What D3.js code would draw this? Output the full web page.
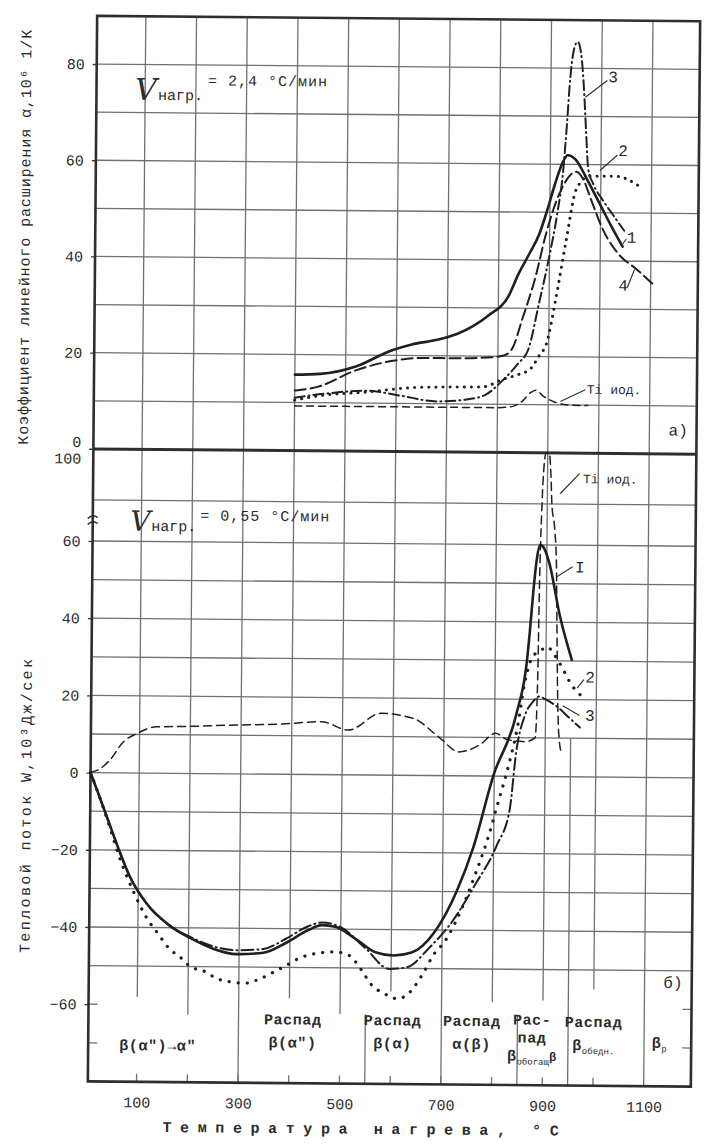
<!DOCTYPE html>
<html>
<head>
<meta charset="utf-8">
<script src="https://cdn.jsdelivr.net/npm/d3@7"></script>
<style>
  body { margin: 0; background: #fff; }
  text { font-family: "Liberation Mono", "DejaVu Sans Mono", monospace; fill: #2b2b2b; }
</style>
</head>
<body>
<svg id="canvas"></svg>
<script>
// ---------- panel a) : coefficient of linear expansion, heating 2.4 C/min ----------
const tA1 = [400, 450, 520, 590, 630, 680, 720, 780, 820, 840, 860, 880, 895, 910, 925, 934, 950, 970, 990, 1005, 1020, 1044]
const vA1 = [15.8, 16, 17.6, 21, 22.3, 23.3, 24.6, 28.4, 32.5, 37.3, 41.3, 45.6, 50.5, 56, 60.5, 61.9, 61, 57.5, 53.5, 50.5, 47.5, 43]
const tA2 = [400, 450, 540, 630, 700, 770, 810, 840, 865, 882, 895, 912, 932, 952, 978, 1030, 1077]
const vA2 = [10.5, 11.5, 12.3, 13.3, 13.5, 13.6, 15.2, 16.2, 17.5, 20.3, 22.5, 31.3, 43.8, 54.9, 57.6, 57.6, 55.5]
const tA3 = [400, 460, 540, 610, 680, 735, 775, 810, 840, 860, 880, 900, 915, 925, 932, 938, 945, 952, 959, 965, 970, 975, 985, 1005, 1025, 1047]
const vA3 = [11, 11.9, 12.6, 11.6, 10.5, 10.9, 11.9, 15, 18.5, 21.5, 31, 41, 50, 58, 68, 78, 84, 85.5, 83, 76, 67, 59, 56, 52.5, 49.5, 46.3]
const tA4 = [400, 445, 520, 590, 650, 720, 790, 815, 830, 847, 873, 893, 919, 952, 965, 980, 1005, 1040, 1070, 1107]
const vA4 = [12.5, 13.3, 16.8, 18.8, 19.5, 19.5, 19.8, 20.3, 22, 27.6, 36.6, 45.6, 54, 58.5, 57, 53, 46.5, 41, 38.5, 35]
const tATi = [400, 500, 600, 700, 800, 830, 850, 865, 876, 890, 912, 940, 978]
const vATi = [9.3, 9.3, 9.3, 9.3, 9.3, 9.6, 10.8, 12.5, 13, 11.8, 10.6, 10, 9.9]

// ---------- panel б) : heat flow W, 10^3 J/s, heating 0.55 C/min ----------
const tB1 = [4, 20, 40, 60, 82, 118, 162, 206, 250, 295, 348, 392, 436, 463, 489, 533, 569, 604, 640, 684, 728, 760, 798, 843, 862, 868, 874, 880, 887, 895, 905, 927, 951]
const vB1 = [0, -5.5, -12.5, -19.5, -26.5, -34, -39.4, -42.8, -45.4, -46.7, -46.3, -43.7, -40.3, -39, -39.4, -42.8, -45.9, -46.7, -45.9, -40.7, -29.9, -18.5, 0, 16.3, 29.3, 37.9, 48, 56, 60, 59, 55.3, 41.5, 30.3]
const tB2 = [4, 20, 40, 60, 91, 118, 140, 162, 184, 206, 228, 259, 290, 312, 339, 365, 392, 419, 454, 489, 516, 542, 560, 587, 613, 640, 662, 684, 706, 724, 747, 764, 790, 807, 827, 846, 858, 869, 880, 893, 901, 927, 953, 972]
const vB2 = [0, -5.5, -13, -21, -30.8, -37.7, -41.6, -45.4, -47.6, -50.2, -51, -53.2, -54, -54.2, -53.2, -51.5, -49.6, -47.6, -46.3, -45.9, -46.7, -50.6, -54.1, -56.6, -57.9, -55.8, -51.5, -46.3, -42.8, -38.5, -31.6, -25.6, -15.5, -7.3, 2.2, 13.5, 23.8, 29.7, 32, 33, 33.6, 29.4, 23.4, 20.8]
const tB3 = [4, 20, 40, 60, 82, 118, 162, 206, 250, 295, 348, 392, 436, 463, 500, 550, 596, 631, 675, 720, 764, 806, 831, 843, 860, 876, 886, 900, 921, 945, 968]
const vB3 = [0, -5.5, -12.5, -19.5, -26.5, -34, -39.4, -42.5, -44.8, -45.7, -45.3, -42.6, -39.3, -38.3, -39.5, -45, -50.2, -49.7, -44.6, -37.7, -28.2, -18, -8.7, 6.4, 16, 19.5, 20.7, 20, 18.3, 15.5, 12.8]
const tBTi = [4, 20, 42, 68, 96, 132, 200, 277, 380, 458, 512, 575, 639, 690, 730, 770, 802, 825, 860, 880, 884, 886, 889, 893, 897, 903, 907, 909, 915, 919, 921, 923, 926, 932]
const vBTi = [0, 0.8, 3.3, 8, 10.3, 12, 12.2, 12.6, 13, 13.7, 11.6, 16, 14.8, 10, 6.2, 8, 11.1, 9.5, 9, 10, 25, 50, 75, 95, 100, 100, 90, 80, 68, 55, 40, 25, 12, 6]

// ---------- ticks and grid ----------
const gridX = [100, 200, 300, 400, 500, 600, 700, 800, 900, 1000, 1100]
const gridEndB = [-58, -62.5, -80, -58, -62, -56, -80, -58.5, -58, -55, -80]
const gridYA = [10, 20, 30, 40, 50, 60, 70, 80]
const gridYB = [80, 60, 50, 40, 30, 20, 10, 0, -10, -20, -30, -40, -50]
const ticksA = [0, 20, 40, 60, 80]
const ticksB = [-60, -40, -20, 0, 20, 40, 60, 100]
const xLabels = [100, 300, 500, 700, 900, 1100]
const separatorsB = [[550, -62, -80], [850, -62, -80], [950, 10, -80]]

// ---------- annotations ----------
const curveLabelsA = [[1013, 78.3, '3'], [1034, 63, '2'], [1052, 45, '1'], [1036, 35, '4'], [976, 13.3, 'Ti иод.'], [1138, 5, 'а)']]
const pointersA = [[968, 74, 1011, 77.5], [998, 58.8, 1032, 62], [1044, 43.5, 1051, 44.6], [1054, 34.5, 1068, 38.3], [924, 10.7, 973, 13.2]]
const curveLabelsB = [[970, 90, 'Ti иод.'], [956, 54.4, 'I'], [978, 25.9, '2'], [978, 16, '3'], [1137, -53, 'б)']]
const pointersB = [[925, 84, 963, 92], [920, 51.8, 951, 54.4], [962, 23, 975, 25.2], [934, 18.4, 967, 15.9]]
// rows: plain string, or [base, subscript, tail]
const phaseLabels = [
  [141, -70.5, ['β(α″)→α″'], 23],
  [407, -63.5, ['Распад', 'β(α″)'], 23],
  [604, -63.5, ['Распад', 'β(α)'], 23],
  [760, -63.5, ['Распад', 'α(β)'], 23],
  [879, -63, ['Рас-', 'пад', ['β', 'обогащ', 'β']], 18],
  [1000, -63.5, ['Распад', ['β', 'обедн.', '']], 23],
  [1130, -68.7, [['β', 'р', '']], 23]
]

// ---------- set up ----------
const width = 717
const height = 1146
const plot = { left: 92.5, right: 695.5, top: 18.5, mid: 451.5, bottom: 1084 }

let canvas = d3.select('#canvas').attr('width', width).attr('height', height)
canvas.append('rect').attr('width', width).attr('height', height).attr('fill', '#fff')
// the scan is slightly skewed
let root = canvas.append('g').attr('transform', 'rotate(0.5, 390, 550)')

let xScale = d3.scaleLinear().domain([4, 1193]).range([plot.left, plot.right])
let yA = d3.scaleLinear().domain([0, 90]).range([plot.mid, plot.top])
// broken axis above 60
let yB = d3.scaleLinear().domain([-80, 60, 80, 100]).range([plot.bottom, 543.6, 502.5, plot.mid])

let zip = (ts, vs) => ts.map((t, i) => [t, vs[i]])

let drawGrid = () => {
  let grid = root.append('g').attr('stroke', '#707070').attr('stroke-width', 1.3)
  gridX.forEach((t, i) => {
    grid.append('line').attr('x1', xScale(t)).attr('x2', xScale(t)).attr('y1', yA(90)).attr('y2', yA(0))
    grid.append('line').attr('x1', xScale(t)).attr('x2', xScale(t)).attr('y1', yB(100)).attr('y2', yB(gridEndB[i]))
  })
  gridYA.forEach(v => {
    grid.append('line').attr('x1', plot.left).attr('x2', plot.right).attr('y1', yA(v)).attr('y2', yA(v))
  })
  gridYB.forEach(v => {
    grid.append('line').attr('x1', plot.left).attr('x2', plot.right).attr('y1', yB(v)).attr('y2', yB(v))
  })
  separatorsB.forEach(s => {
    grid.append('line').attr('x1', xScale(s[0])).attr('x2', xScale(s[0])).attr('y1', yB(s[1])).attr('y2', yB(s[2]))
  })
  // short inner ticks
  gridX.slice(0, 10).forEach(t => {
    grid.append('line').attr('x1', xScale(t)).attr('x2', xScale(t)).attr('y1', plot.bottom).attr('y2', plot.bottom - 8)
  });
  [-60, -70].forEach(v => {
    grid.append('line').attr('x1', plot.left).attr('x2', plot.left + 9).attr('y1', yB(v)).attr('y2', yB(v))
    grid.append('line').attr('x1', plot.right - 9).attr('x2', plot.right).attr('y1', yB(v)).attr('y2', yB(v))
  })
}

let drawFrame = () => {
  let frame = root.append('g').attr('stroke', '#2e2e2e').attr('fill', 'none')
  frame.append('rect').attr('x', plot.left).attr('y', plot.top)
    .attr('width', plot.right - plot.left).attr('height', plot.bottom - plot.top).attr('stroke-width', 2.6)
  frame.append('line').attr('x1', plot.left).attr('x2', plot.right)
    .attr('y1', plot.mid).attr('y2', plot.mid).attr('stroke-width', 3)
  // axis break mark
  let yb = yB(70)
  frame.append('path').attr('stroke-width', 1.4)
    .attr('d', `M${plot.left - 5},${yb - 2} q5,-5 10,-1 M${plot.left - 5},${yb + 4} q5,-5 10,-1`)
}

let drawAxes = () => {
  let axisA = d3.axisLeft(yA).tickValues(ticksA).tickSize(4).tickPadding(8)
  let gA = root.append('g').attr('transform', `translate(${plot.left},0)`).call(axisA)
  let axisB = d3.axisLeft(yB).tickValues(ticksB).tickSize(4).tickPadding(8)
  let gB = root.append('g').attr('transform', `translate(${plot.left},0)`).call(axisB)
  let axisX = d3.axisBottom(xScale).tickValues(xLabels).tickFormat(d3.format('d')).tickSize(0).tickPadding(15)
  let gX = root.append('g').attr('transform', `translate(0,${plot.bottom})`).call(axisX)

  ;[gA, gB, gX].forEach(g => {
    g.select('.domain').remove()
    g.selectAll('line').attr('stroke', '#333').attr('stroke-width', 1.3)
    g.selectAll('text').attr('font-size', 15).attr('font-family', '"Liberation Mono", monospace').attr('fill', '#2b2b2b')
  })
  gA.selectAll('text').filter(d => d === 0).attr('dy', '-0.15em')
  gB.selectAll('text').filter(d => d === 100).attr('dy', '0.95em')
}

let drawCurves = () => {
  let lineA = d3.line().x(d => xScale(d[0])).y(d => yA(d[1])).curve(d3.curveMonotoneX)
  let lineB = d3.line().x(d => xScale(d[0])).y(d => yB(d[1])).curve(d3.curveMonotoneX)

  let seriesA = [
    { pts: zip(tATi, vATi), w: 1.5, dash: '7 5' },
    { pts: zip(tA4, vA4), w: 2, dash: '11 5' },
    { pts: zip(tA3, vA3), w: 2, dash: '10 4 1 4' },
    { pts: zip(tA2, vA2), w: 3, dash: '0.1 7' },
    { pts: zip(tA1, vA1), w: 2.6, dash: null }
  ]
  let seriesB = [
    { pts: zip(tBTi, vBTi), w: 1.5, dash: '8 5' },
    { pts: zip(tB3, vB3), w: 2, dash: '12 4 1 4' },
    { pts: zip(tB2, vB2), w: 3.2, dash: '0.1 9' },
    { pts: zip(tB1, vB1), w: 2.6, dash: null }
  ]

  let curves = root.append('g').attr('fill', 'none').attr('stroke', '#1f1f1f').attr('stroke-linecap', 'round')
  seriesA.forEach(s => {
    curves.append('path').attr('d', lineA(s.pts)).attr('stroke-width', s.w).attr('stroke-dasharray', s.dash)
  })
  seriesB.forEach(s => {
    curves.append('path').attr('d', lineB(s.pts)).attr('stroke-width', s.w).attr('stroke-dasharray', s.dash)
  })
}

let drawLabels = () => {
  let ann = root.append('g')
  let ptr = root.append('g').attr('stroke', '#333').attr('stroke-width', 1.2)

  curveLabelsA.forEach(l => {
    ann.append('text').attr('x', xScale(l[0])).attr('y', yA(l[1])).attr('dy', '0.35em')
      .attr('font-size', l[2].length > 2 ? 13 : 16).text(l[2])
  })
  pointersA.forEach(p => {
    ptr.append('line').attr('x1', xScale(p[0])).attr('y1', yA(p[1])).attr('x2', xScale(p[2])).attr('y2', yA(p[3]))
  })
  curveLabelsB.forEach(l => {
    ann.append('text').attr('x', xScale(l[0])).attr('y', yB(l[1])).attr('dy', '0.35em')
      .attr('font-size', l[2].length > 2 ? 13 : 16).text(l[2])
  })
  pointersB.forEach(p => {
    ptr.append('line').attr('x1', xScale(p[0])).attr('y1', yB(p[1])).attr('x2', xScale(p[2])).attr('y2', yB(p[3]))
  })

  phaseLabels.forEach(l => {
    l[2].forEach((row, i) => {
      let txt = ann.append('text').attr('text-anchor', 'middle').attr('font-size', 15)
        .attr('font-weight', 'bold').attr('letter-spacing', 0.6)
        .attr('x', xScale(l[0])).attr('y', yB(l[1]) + 5 + i * l[3])
      if (typeof row === 'string') {
        txt.text(row)
      } else {
        txt.append('tspan').text(row[0])
        txt.append('tspan').attr('font-size', 9).attr('font-weight', 'normal').attr('letter-spacing', 0).attr('dy', 4).text(row[1])
        if (row[2]) txt.append('tspan').attr('font-size', 12).attr('dy', -4).text(row[2])
      }
    })
  })

  // heating-rate captions
  let capA = ann.append('text').attr('x', 131).attr('y', 102)
  capA.append('tspan').attr('font-family', '"DejaVu Serif", serif').attr('font-style', 'italic').attr('font-size', 30).text('V')
  capA.append('tspan').attr('x', 154).attr('font-size', 15).text('нагр.')
  capA.append('tspan').attr('x', 204).attr('y', 87).attr('font-size', 15).attr('letter-spacing', 1).text('= 2,4 °С/мин')

  let capB = ann.append('text').attr('x', 130).attr('y', 533)
  capB.append('tspan').attr('font-family', '"DejaVu Serif", serif').attr('font-style', 'italic').attr('font-size', 28).text('V')
  capB.append('tspan').attr('x', 151).attr('font-size', 15).text('нагр.')
  capB.append('tspan').attr('x', 200).attr('y', 522).attr('font-size', 15).attr('letter-spacing', 1).text('= 0,55 °С/мин')

  // axis titles
  ann.append('text').attr('transform', 'translate(27,240) rotate(-90)').attr('text-anchor', 'middle')
    .attr('font-size', 15).attr('letter-spacing', 0.9).text('Коэффициент линейного расширения α,10⁶ 1/К')
  ann.append('text').attr('transform', 'translate(33,808) rotate(-90)').attr('text-anchor', 'middle')
    .attr('font-size', 15).attr('letter-spacing', 2.4).text('Тепловой поток W,10³Дж/сек')
  ann.append('text').attr('x', 370).attr('y', 1134).attr('text-anchor', 'middle')
    .attr('font-size', 15).attr('font-weight', 'bold').attr('letter-spacing', 8.6).text('Температура нагрева, °С')
}

drawGrid()
drawFrame()
drawAxes()
drawCurves()
drawLabels()
</script>
</body>
</html>
